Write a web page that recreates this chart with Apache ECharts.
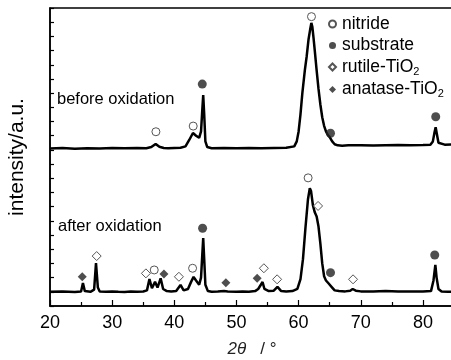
<!DOCTYPE html>
<html>
<head>
<meta charset="utf-8">
<script src="https://cdn.jsdelivr.net/npm/echarts@6/dist/echarts.min.js"></script>
<style>
html,body{margin:0;padding:0;background:#fff;}
#chart{width:451px;height:360px;}
</style>
</head>
<body>
<div id="chart"></div>
<script>
// 2θ (deg) vs offset intensity (a.u.)
const beforeTrace = [
 [20,11.10],[22,11.13],[24,11.09],[26,11.12],[28,11.10],[30,11.13],[32,11.11],[34,11.14],[35.5,11.12],
 [36.3,11.20],[37.0,11.42],[37.6,11.22],[38.3,11.13],[39,11.12],[40,11.14],[41,11.15],[41.8,11.25],
 [42.4,11.70],[43.0,12.19],[43.5,12.00],[44.0,11.85],[44.3,12.30],[44.5,13.80],[44.65,14.87],[44.8,13.60],
 [45.0,11.60],[45.3,11.20],[46,11.12],[48,11.13],[50,11.12],[52,11.13],[54,11.12],[56,11.14],[58,11.15],
 [59.3,11.25],[59.7,11.60],[60.0,12.30],[60.3,13.50],[60.6,15.00],[61.0,16.60],[61.3,17.60],[61.6,18.80],
 [61.9,19.60],[62.05,19.95],[62.2,19.70],[62.4,18.90],[62.6,18.00],[62.9,16.60],[63.2,15.30],[63.5,14.20],
 [63.8,13.30],[64.1,12.70],[64.4,12.30],[64.7,12.05],[65.0,11.90],[65.15,11.95],[65.4,11.60],[65.8,11.40],
 [66.3,11.32],[67,11.30],[68,11.32],[70,11.33],[72,11.31],[74,11.33],[76,11.34],[78,11.33],[80,11.35],
 [81.2,11.37],[81.6,11.60],[81.85,12.20],[82.05,12.60],[82.25,12.10],[82.5,11.50],[82.8,11.38],[83.5,11.37],[85,11.38]
];
const afterTrace = [
 [20,1.00],[22,1.02],[24,0.99],[25.0,1.02],[25.3,1.62],[25.6,1.05],[26.5,1.00],[27.1,1.15],[27.4,3.03],
 [27.7,1.30],[28.0,1.02],[29,1.00],[30,1.02],[31,1.00],[32,0.99],[33,1.02],[34,1.00],[35,1.02],[35.6,1.10],
 [36.0,1.90],[36.4,1.25],[36.9,1.70],[37.3,1.30],[37.8,1.95],[38.2,1.20],[38.8,1.05],[39.5,1.02],[40.3,1.05],
 [41.0,1.48],[41.5,1.10],[42.2,1.20],[42.7,1.70],[43.1,2.05],[43.5,1.80],[44.0,1.50],[44.3,2.00],[44.5,3.60],
 [44.65,4.79],[44.8,3.40],[45.0,1.50],[45.4,1.05],[46,1.00],[47,1.02],[48.0,1.05],[48.3,1.15],[48.6,1.03],
 [50,1.00],[51,1.02],[52,1.00],[53.0,1.05],[53.5,1.20],[53.8,1.10],[54.2,1.69],[54.5,1.20],[55.2,1.05],
 [56.0,1.08],[56.6,1.35],[57.2,1.05],[58,1.02],[59,1.05],[59.8,1.20],[60.3,1.90],[60.7,3.30],[61.1,5.50],
 [61.5,7.50],[61.8,8.30],[62.0,8.10],[62.3,7.10],[62.6,6.60],[62.9,6.30],[63.2,5.60],[63.5,4.40],[63.8,3.00],
 [64.1,2.10],[64.4,1.80],[64.8,1.60],[65.1,1.55],[65.4,1.30],[65.8,1.10],[66.5,1.05],[67.5,1.03],[68.3,1.08],
 [68.7,1.20],[69.2,1.08],[70,1.03],[72,1.02],[74,1.05],[76,1.03],[78,1.02],[80,1.02],[81.3,1.05],[81.7,1.80],
 [82.0,2.89],[82.2,2.00],[82.5,1.20],[83,1.02],[84,1.00],[85,1.00]
];
const nitrideMarks = [[37.04,12.28],[43.04,12.68],[62.07,20.39],[36.77,2.54],[42.94,2.66],[61.53,9.03]];
const substrateMarks = [[44.5,15.64],[65.13,12.17],[82.06,13.34],[44.55,5.48],[65.13,2.35],[81.9,3.59]];
const rutileMarks = [[27.51,3.52],[35.43,2.30],[40.74,2.06],[54.41,2.66],[56.54,1.88],[63.13,7.05],[68.76,1.88]];
const anataseMarks = [[25.19,2.06],[38.33,2.26],[48.30,1.64],[53.33,1.95]];
const legendNames = ['nitride','substrate','rutile-TiO2','anatase-TiO2'];
const traceLabels = ['before oxidation','after oxidation'];
const xTitle = '2θ';
const yTitle = 'intensity/a.u.';

const FONT = 'Liberation Sans, Arial, sans-serif';
const chart = echarts.init(document.getElementById('chart'), null, {renderer:'canvas'});
const openStyle = {color:'#fff', borderColor:'#555', borderWidth:1, opacity:1};
const fillStyle = {color:'#222', borderColor:'#222', borderWidth:0};
const lineSeries = (d) => ({type:'line', data:d, showSymbol:false, symbol:'none', silent:true,
  lineStyle:{color:'#000', width:2.5}, z:2, animation:false});
const scat = (name, d, sym, size, st) => ({type:'scatter', name:name, data:d, symbol:sym, symbolSize:size,
  itemStyle:st, z:5, animation:false});

chart.setOption({
  backgroundColor:'#fff',
  animation:false,
  grid:{left:50, top:8, right:-3, bottom:54, show:true, borderColor:'#000', borderWidth:1.5,
    backgroundColor:'transparent', containLabel:false, outerBoundsMode:'none'},
  xAxis:{type:'value', min:20, max:85, interval:10,
    axisLine:{onZero:false, lineStyle:{color:'#000', width:1.5}},
    axisTick:{inside:true, length:6, lineStyle:{color:'#000', width:1.2}},
    minorTick:{show:true, splitNumber:2, length:4, lineStyle:{color:'#000', width:1.2}},
    splitLine:{show:false},
    axisLabel:{color:'#000', fontSize:18, fontFamily:FONT, margin:8,
      formatter:(v)=> v>84 ? '' : String(v)},
    name:'{i|'+xTitle+'}{n|   / °}', nameLocation:'middle', nameGap:35,
    nameTextStyle:{rich:{i:{fontStyle:'italic', fontSize:17, fontFamily:FONT, color:'#222'},
      n:{fontSize:17, fontFamily:FONT, color:'#222'}}}
  },
  yAxis:{type:'value', min:0, max:21, interval:1,
    axisLine:{show:true, lineStyle:{color:'#000', width:1.5}},
    axisTick:{inside:true, length:4, lineStyle:{color:'#000', width:1.2}},
    axisLabel:{show:false}, splitLine:{show:false},
    name:yTitle, nameLocation:'middle', nameGap:22,
    nameTextStyle:{fontSize:21, fontFamily:FONT, color:'#000'}
  },
  legend:{data:legendNames, orient:'vertical', left:328, top:15, padding:0, itemWidth:7, itemHeight:7, itemGap:3.5,
    selectedMode:false,
    formatter:(n)=> n.indexOf('TiO2')>=0 ? '{a|'+n.replace('TiO2','TiO')+'}{s|2}' : '{a|'+n+'}',
    textStyle:{fontSize:17.5, fontFamily:FONT, color:'#000',
      rich:{a:{fontSize:17.5, fontFamily:FONT, color:'#000', lineHeight:20, padding:[0,0,0,1]},
            s:{fontSize:11, fontFamily:FONT, color:'#000', lineHeight:11, verticalAlign:'bottom'}}}
  },
  graphic:[
    {type:'text', left:57, top:91, style:{text:traceLabels[0], fontSize:16.5, fontFamily:FONT, fill:'#000'}},
    {type:'text', left:58, top:218, style:{text:traceLabels[1], fontSize:16.5, fontFamily:FONT, fill:'#000'}}
  ],
  series:[
    lineSeries(beforeTrace),
    lineSeries(afterTrace),
    scat(legendNames[0], nitrideMarks, 'circle', 8, openStyle),
    scat(legendNames[1], substrateMarks, 'circle', 9, fillStyle),
    scat(legendNames[2], rutileMarks, 'diamond', 9, openStyle),
    scat(legendNames[3], anataseMarks, 'diamond', 9, fillStyle)
  ]
});
</script>
</body>
</html>
